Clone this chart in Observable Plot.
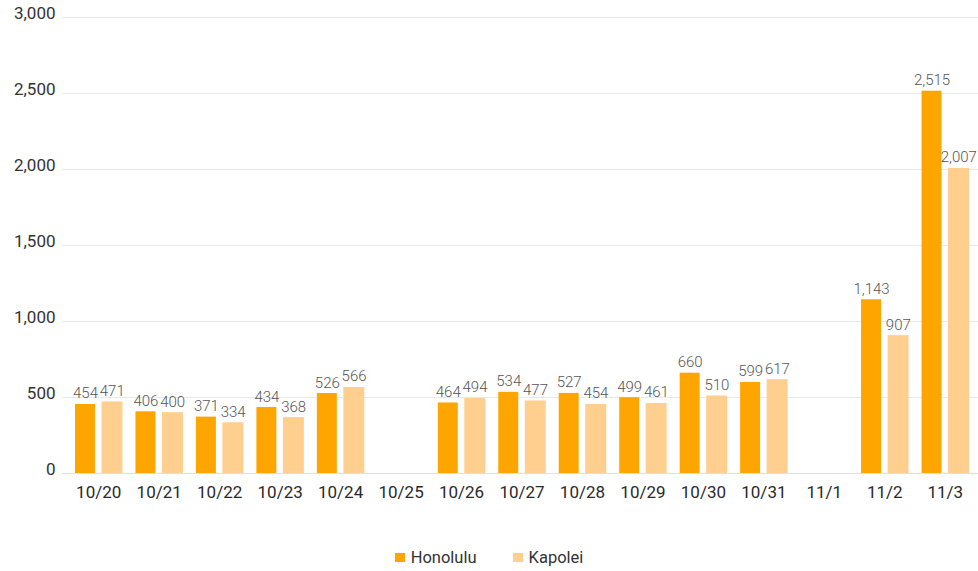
<!DOCTYPE html>
<html>
<head>
<meta charset="utf-8">
<script src="https://cdn.jsdelivr.net/npm/d3@7"></script>
<script src="https://cdn.jsdelivr.net/npm/@observablehq/plot@0.6"></script>
<style>
  html, body { margin: 0; padding: 0; background: #fff; }
  body { width: 978px; height: 571px; overflow: hidden; font-family: Roboto, "Open Sans", sans-serif; }
  #legend { display: flex; justify-content: center; align-items: center; gap: 0; margin-top: 34px; height: 20px; font-size: 16.5px; color: #333; }
  .item { display: flex; align-items: center; }
  .sw { width: 10px; height: 9px; display: inline-block; margin-right: 6px; }
</style>
</head>
<body>
<div id="chart"></div>
<div id="legend"></div>
<script>
const dates = ["10/20","10/21","10/22","10/23","10/24","10/25","10/26","10/27","10/28","10/29","10/30","10/31","11/1","11/2","11/3"];
const honolulu = [454, 406, 371, 434, 526, null, 464, 534, 527, 499, 660, 599, null, 1143, 2515];
const kapolei  = [471, 400, 334, 368, 566, null, 494, 477, 454, 461, 510, 617, null, 907, 2007];
const seriesNames = ["Honolulu", "Kapolei"];
const seriesColors = ["#FFA500", "#FFCF8F"];
const yTicks = [0, 500, 1000, 1500, 2000, 2500, 3000];

const hData = dates.map((d, i) => ({date: d, value: honolulu[i]})).filter(d => d.value != null);
const kData = dates.map((d, i) => ({date: d, value: kapolei[i]})).filter(d => d.value != null);

const fmt = d3.format(",");

const chart = Plot.plot({
  width: 978,
  height: 513,
  marginLeft: 68,
  marginRight: 3,
  marginTop: 17,
  marginBottom: 40,
  style: {fontFamily: "Roboto, sans-serif", background: "#fff"},
  x: {type: "band", domain: dates, padding: 0, round: false, label: null},
  y: {domain: [0, 3000], label: null},
  marks: [
    Plot.ruleY(yTicks.filter(t => t > 0), {stroke: "#e6e9ed", strokeWidth: 1, insetLeft: -6, insetRight: -3}),
    Plot.ruleY([0], {stroke: "#dde0e4", strokeWidth: 1.2, insetLeft: -6, insetRight: -3}),
    Plot.axisY({ticks: yTicks, tickSize: 0, tickPadding: 13, tickFormat: fmt, fontSize: 17, fill: "#333", dy: -4, label: null}),
    Plot.axisX({tickSize: 0, tickPadding: 12, fontSize: 17, fill: "#2a2a2a", label: null}),
    Plot.barY(hData, {x: "date", y: "value", fill: seriesColors[0], insetLeft: 7, insetRight: 33.5}),
    Plot.barY(kData, {x: "date", y: "value", fill: seriesColors[1], insetLeft: 33.5, insetRight: 6}),
    Plot.text(hData, {x: "date", y: "value", text: d => fmt(d.value), dx: -13.25, dy: -6, lineAnchor: "bottom", fontSize: 15, fill: "#555", fontWeight: 300}),
    Plot.text(kData, {x: "date", y: "value", text: d => fmt(d.value), dx: 13.5, dy: -6, lineAnchor: "bottom", fontSize: 15, fill: "#555", fontWeight: 300})
  ]
});
document.getElementById("chart").appendChild(chart);

const legend = document.getElementById("legend");
seriesNames.forEach((name, i) => {
  const item = document.createElement("span");
  item.className = "item";
  item.style.marginRight = i === 0 ? "36px" : "0";
  const sw = document.createElement("span");
  sw.className = "sw";
  sw.style.background = seriesColors[i];
  item.appendChild(sw);
  item.appendChild(document.createTextNode(name));
  legend.appendChild(item);
});
</script>
</body>
</html>
